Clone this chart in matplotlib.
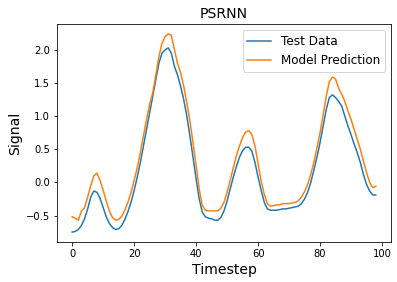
import numpy as np
import matplotlib
matplotlib.use("Agg")
import matplotlib.pyplot as plt

# Test data (blue) and model prediction (orange)
test_data = [
    -0.75, -0.74, -0.71, -0.65, -0.55, -0.40, -0.22, -0.13, -0.15, -0.24,
    -0.38, -0.52, -0.62, -0.68, -0.71, -0.70, -0.65, -0.56, -0.44, -0.30,
    -0.12, 0.08, 0.30, 0.55, 0.80, 1.05, 1.30, 1.55, 1.80, 1.95,
    2.00, 2.03, 1.95, 1.75, 1.62, 1.45, 1.25, 1.00, 0.70, 0.38,
    0.05, -0.25, -0.45, -0.52, -0.54, -0.55, -0.57, -0.57, -0.53, -0.43,
    -0.28, -0.10, 0.08, 0.24, 0.38, 0.48, 0.53, 0.53, 0.47, 0.30,
    0.08, -0.12, -0.30, -0.40, -0.42, -0.42, -0.42, -0.41, -0.40, -0.40,
    -0.39, -0.38, -0.37, -0.36, -0.32, -0.25, -0.15, 0.00, 0.18, 0.38,
    0.60, 0.85, 1.10, 1.28, 1.32, 1.28, 1.22, 1.15, 1.00, 0.85,
    0.72, 0.58, 0.45, 0.30, 0.12, -0.03, -0.13, -0.19, -0.19,
]
prediction = [
    -0.52, -0.54, -0.57, -0.43, -0.38, -0.22, -0.05, 0.10, 0.14, 0.03,
    -0.12, -0.28, -0.43, -0.53, -0.57, -0.56, -0.51, -0.42, -0.30, -0.15,
    0.03, 0.22, 0.45, 0.70, 0.95, 1.18, 1.35, 1.62, 1.90, 2.10,
    2.20, 2.24, 2.22, 2.00, 1.80, 1.65, 1.45, 1.20, 0.92, 0.60,
    0.25, -0.10, -0.35, -0.42, -0.43, -0.43, -0.43, -0.43, -0.39, -0.30,
    -0.15, 0.03, 0.22, 0.40, 0.55, 0.68, 0.76, 0.78, 0.72, 0.55,
    0.28, 0.02, -0.18, -0.32, -0.36, -0.35, -0.34, -0.34, -0.32, -0.32,
    -0.32, -0.31, -0.30, -0.28, -0.22, -0.14, -0.03, 0.12, 0.30, 0.52,
    0.75, 1.02, 1.30, 1.52, 1.59, 1.56, 1.42, 1.33, 1.22, 1.08,
    0.95, 0.80, 0.65, 0.50, 0.32, 0.15, 0.00, -0.08, -0.06,
]
timesteps = np.arange(len(test_data))

fig = plt.figure(figsize=(397 / 72, 282 / 72), dpi=72)
ax = fig.add_axes([57 / 397, 40 / 282, 334 / 397, 218 / 282])

ax.plot(timesteps, test_data, label="Test Data")
ax.plot(timesteps, prediction, label="Model Prediction")

ax.set_title("PSRNN", fontsize=14)
ax.set_xlabel("Timestep", fontsize=14)
ax.set_ylabel("Signal", fontsize=14)
ax.legend(fontsize=12)

fig.savefig("out.png", dpi=72)
